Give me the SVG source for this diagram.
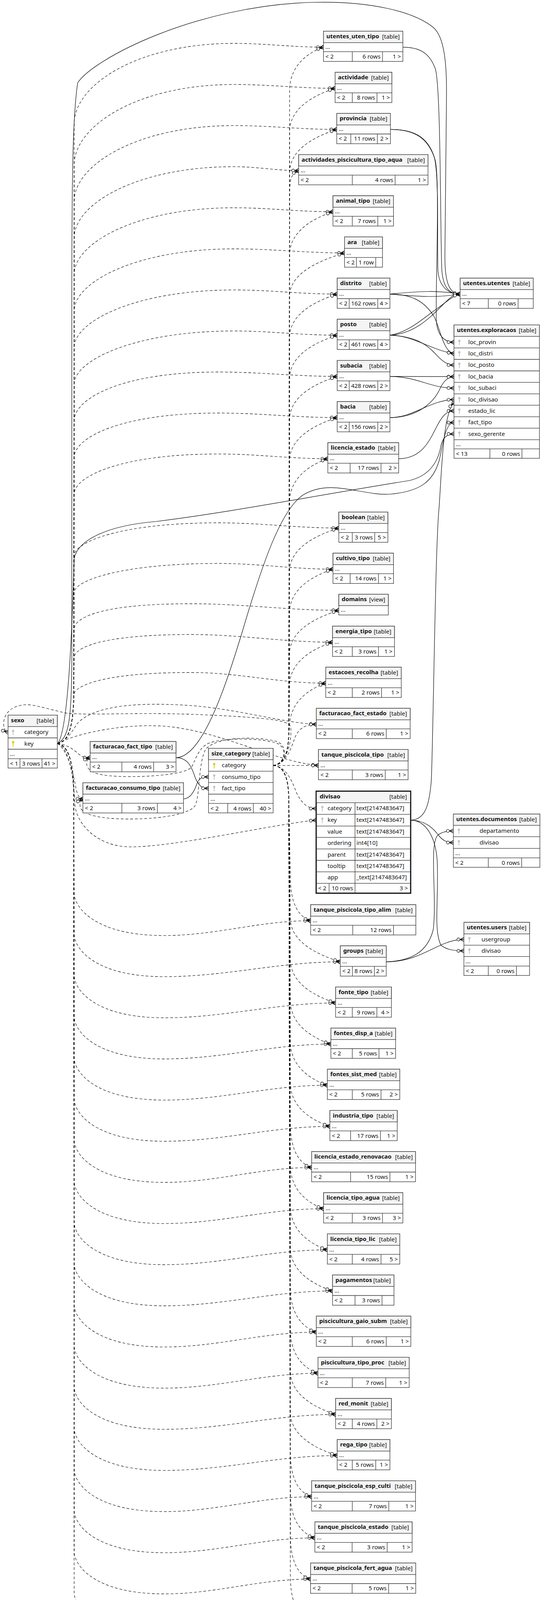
<svg xmlns="http://www.w3.org/2000/svg" xmlns:xlink="http://www.w3.org/1999/xlink" width="1399" height="4242" viewBox="0 0 1399 4242">
<style>
text{font-family:"Noto Sans","Open Sans","Liberation Sans",sans-serif;font-size:15px;fill:#111}
.tb{font-weight:bold}
.e{text-anchor:end}
.bx{fill:#fff;stroke:#333;stroke-width:1.3}
.bx3{fill:#fff;stroke:#111;stroke-width:3}
.hd{fill:#f4f4f4;stroke:#333;stroke-width:1.3}
.ln{fill:none;stroke:#333;stroke-width:1.3}
.dc{fill:none;stroke:#000;stroke-width:1.1;stroke-dasharray:7 5;marker-end:url(#cr)}
.sc{fill:none;stroke:#000;stroke-width:1.2;marker-end:url(#cr)}
</style>
<defs>
<marker id="cr" viewBox="-20 -7 22 14" refX="0" refY="0" markerWidth="22" markerHeight="14" markerUnits="userSpaceOnUse" orient="auto">
<path d="M-10,0L0,-5M-10,0L0,0M-10,0L0,5" fill="none" stroke="#000" stroke-width="1.5" stroke-dasharray="none"/>
<circle cx="-14" cy="0" r="3.8" fill="#fff" stroke="#000" stroke-width="1.2" stroke-dasharray="none"/>
</marker>
<g id="kg"><circle cx="0" cy="-3.5" r="3" fill="#c4c4c4"/><rect x="-1" y="-1" width="2" height="8.5" fill="#c4c4c4"/></g>
<g id="ky"><circle cx="0" cy="-3.5" r="3" fill="#d8d200"/><rect x="-1" y="-1" width="2" height="8.5" fill="#d8d200"/></g>
</defs>
<rect width="1399" height="4242" fill="#fff"/>
<g id="connectors">
<path class="dc" d="M147,1903.5C175,1900 188,1860 189,1780L190,315.8C191,218.3 350,111.1 600,111.1C680.1,111.1 748.7,120.8 828.8,120.8"/>
<path class="dc" d="M147,1903.5C175,1900 188,1860 189,1780L190,421.1C191,323.6 350,216.3 600,216.3C690.5,216.3 768.1,226.1 858.6,226.1"/>
<path class="dc" d="M147,1903.5C175,1900 188,1860 189,1780L190,514.3C191,422.9 350,321.5 600,321.5C692,321.5 770.8,331.4 862.8,331.4"/>
<path class="dc" d="M147,1903.5C175,1900 188,1860 189,1780L190,608C191,522.4 350,426.7 600,426.7C657.9,426.7 707.4,436.7 765.3,436.7"/>
<path class="dc" d="M147,1903.5C175,1900 188,1860 189,1780L190,701.9C191,622 350,531.9 600,531.9C688.6,531.9 764.6,542.1 853.2,542.1"/>
<path class="dc" d="M147,1903.5C175,1900 188,1860 189,1780L190,795.7C191,721.6 350,637.1 600,637.1C698.9,637.1 783.8,647.5 882.7,647.5"/>
<path class="dc" d="M147,1903.5C175,1900 188,1860 189,1780L190,889.5C191,821.2 350,742.3 600,742.3C692.4,742.3 771.6,752.9 864,752.9"/>
<path class="dc" d="M147,1903.5C175,1900 188,1860 189,1780L190,983.2C191,920.7 350,847.3 600,847.3C692.4,847.3 771.6,858.2 864,858.2"/>
<path class="dc" d="M147,1903.5C175,1900 188,1860 189,1780L190,1077C191,1020.3 310,952.4 560,952.4C666.4,952.4 757.6,963.6 864,963.6"/>
<path class="dc" d="M147,1903.5C175,1900 188,1860 189,1780L190,1170.8C191,1119.9 310,1057.4 560,1057.4C666.4,1057.4 757.6,1069 864,1069"/>
<path class="dc" d="M147,1903.5C175,1900 188,1860 189,1780L190,1264.5C191,1219.4 310,1162.2 560,1162.2C658,1162.2 742,1174.3 840,1174.3"/>
<path class="dc" d="M147,1903.5C175,1900 188,1860 189,1780L190,1422.5C191,1387.2 310,1338.4 560,1338.4C667.8,1338.4 760.3,1351.8 868.1,1351.8"/>
<path class="dc" d="M147,1903.5C175,1900 188,1860 189,1780L190,1516.2C191,1486.7 310,1442.4 560,1442.4C662.6,1442.4 750.6,1457.1 853.2,1457.1"/>
<path class="dc" d="M147,1903.5C175,1900 188,1860 189,1780L190,1609.9C191,1586.2 240,1545.6 490,1545.6C622.3,1545.6 735.8,1562.4 868.1,1562.4"/>
<path class="dc" d="M147,1903.5C175,1900 188,1860 189,1780L190,1682.5C191,1663.3 240,1624.4 490,1624.4C616.7,1624.4 725.3,1644 852,1644"/>
<path class="dc" d="M147,1903.5C175,1900 188,1860 189,1780L190,1776C191,1762.5 240,1721.6 490,1721.6C610.6,1721.6 714,1749 834.6,1749"/>
<path class="dc" d="M147,1903.5C175,1895 185,1870 200,1850C250,1800 380,1800 470,1805C600,1812 720,1850 810.5,1854.3"/>
<path class="dc" d="M147,1903.5C190,1880 300,1855 400,1858C550,1862 700,1950 815.9,1959.6"/>
<path class="dc" d="M147,1903.5C175,1910 188,1980 192,2060C196,2110 250,2168 335,2168C450,2168 700,2110 810.1,2099.6"/>
<path class="dc" d="M147,1903.5C175,1907 188,1950 189,2030L190,2287C191,2322 241,2395 421,2395C552.3,2395 664.8,2357 796,2357"/>
<path class="dc" d="M147,1903.5C175,1907 188,1950 189,2030L190,2392.3C191,2427.3 241,2500.3 421,2500.3C578.8,2500.3 714.1,2462.3 871.9,2462.3"/>
<path class="dc" d="M147,1903.5C175,1907 188,1950 189,2030L190,2497.6C191,2532.6 241,2605.6 421,2605.6C574.6,2605.6 706.3,2567.6 859.9,2567.6"/>
<path class="dc" d="M147,1903.5C175,1907 188,1950 189,2030L190,2602.9C191,2637.9 241,2710.9 421,2710.9C570.4,2710.9 698.4,2672.9 847.8,2672.9"/>
<path class="dc" d="M147,1903.5C175,1907 188,1950 189,2030L190,2708.2C191,2743.2 241,2816.2 421,2816.2C567.2,2816.2 692.5,2778.2 838.7,2778.2"/>
<path class="dc" d="M147,1903.5C175,1907 188,1950 189,2030L190,2813.6C191,2848.6 241,2921.6 421,2921.6C569.5,2921.6 696.8,2883.6 845.3,2883.6"/>
<path class="dc" d="M147,1903.5C175,1907 188,1950 189,2030L190,2918.9C191,2953.9 241,3026.9 421,3026.9C553.1,3026.9 666.4,2988.9 798.5,2988.9"/>
<path class="dc" d="M147,1903.5C175,1907 188,1950 189,2030L190,3024.3C191,3059.3 241,3132.3 421,3132.3C563.9,3132.3 686.3,3094.3 829.2,3094.3"/>
<path class="dc" d="M147,1903.5C175,1907 188,1950 189,2030L190,3129.6C191,3164.6 241,3237.6 421,3237.6C567.2,3237.6 692.5,3199.6 838.7,3199.6"/>
<path class="dc" d="M147,1903.5C175,1907 188,1950 189,2030L190,3234.9C191,3269.9 241,3342.9 421,3342.9C571.9,3342.9 701.2,3304.9 852,3304.9"/>
<path class="dc" d="M147,1903.5C175,1907 188,1950 189,2030L190,3340.3C191,3375.3 241,3448.3 421,3448.3C557.3,3448.3 674.2,3410.3 810.5,3410.3"/>
<path class="dc" d="M147,1903.5C175,1907 188,1950 189,2030L190,3445.6C191,3480.6 241,3553.6 421,3553.6C558.8,3553.6 676.9,3515.6 814.7,3515.6"/>
<path class="dc" d="M147,1903.5C175,1907 188,1950 189,2030L190,3551C191,3586 241,3659 421,3659C574.6,3659 706.3,3621 859.9,3621"/>
<path class="dc" d="M147,1903.5C175,1907 188,1950 189,2030L190,3656.3C191,3691.3 241,3764.3 421,3764.3C576,3764.3 709,3726.3 864,3726.3"/>
<path class="dc" d="M147,1903.5C175,1907 188,1950 189,2030L190,3761.7C191,3796.7 241,3869.7 421,3869.7C553.1,3869.7 666.4,3831.7 798.5,3831.7"/>
<path class="dc" d="M147,1903.5C175,1907 188,1950 189,2030L190,3867C191,3902 241,3975 421,3975C556,3975 671.7,3937 806.7,3937"/>
<path class="dc" d="M147,1903.5C175,1907 188,1950 189,2030L190,3972.4C191,4007.4 241,4080.4 421,4080.4C552.1,4080.4 664.6,4042.4 795.7,4042.4"/>
<path class="dc" d="M147,1903.5C175,1907 188,1950 189,2030L190,4077.7C191,4112.7 241,4185.7 421,4185.7C552.1,4185.7 664.6,4147.7 795.7,4147.7"/>
<path class="dc" d="M699.8,1959.5C725,1958 738,1935 740,1880L742,230.8C743,160.8 798.8,130.8 828.8,120.8"/>
<path class="dc" d="M699.8,1959.5C725,1958 738,1935 740,1880L742,336.1C743,266.1 828.6,236.1 858.6,226.1"/>
<path class="dc" d="M699.8,1959.5C725,1958 738,1935 740,1880L742,441.4C743,371.4 832.8,341.4 862.8,331.4"/>
<path class="dc" d="M699.8,1959.5C725,1958 738,1935 740,1880L742,496.7C743,456.7 745,446.7 765.3,436.7"/>
<path class="dc" d="M699.8,1959.5C725,1958 738,1935 740,1880L742,652.1C743,582.1 823.2,552.1 853.2,542.1"/>
<path class="dc" d="M699.8,1959.5C725,1958 738,1935 740,1880L742,757.5C743,687.5 852.7,657.5 882.7,647.5"/>
<path class="dc" d="M699.8,1959.5C725,1958 738,1935 740,1880L742,862.9C743,792.9 834,762.9 864,752.9"/>
<path class="dc" d="M699.8,1959.5C725,1958 738,1935 740,1880L742,968.2C743,898.2 834,868.2 864,858.2"/>
<path class="dc" d="M699.8,1959.5C725,1958 738,1935 740,1880L742,1073.6C743,1003.6 834,973.6 864,963.6"/>
<path class="dc" d="M699.8,1959.5C725,1958 738,1935 740,1880L742,1179C743,1109 834,1079 864,1069"/>
<path class="dc" d="M699.8,1959.5C725,1958 738,1935 740,1880L742,1284.3C743,1214.3 810,1184.3 840,1174.3"/>
<path class="dc" d="M699.8,1959.5C725,1958 738,1935 740,1880L742,1461.8C743,1391.8 838.1,1361.8 868.1,1351.8"/>
<path class="dc" d="M699.8,1959.5C725,1958 738,1935 740,1880L742,1567.1C743,1497.1 823.2,1467.1 853.2,1457.1"/>
<path class="dc" d="M699.8,1959.5C725,1958 738,1935 740,1880L742,1672.4C743,1602.4 838.1,1572.4 868.1,1562.4"/>
<path class="dc" d="M699.8,1959.5C725,1958 738,1935 740,1880L742,1754C743,1684 822,1654 852,1644"/>
<path class="dc" d="M699.8,1959.5C725,1958 738,1935 740,1880L742,1859C743,1789 804.6,1759 834.6,1749"/>
<path class="dc" d="M699.8,1959.5C730,1958 745,1920 755,1890C765,1865 780,1855 810.5,1854.3"/>
<path class="dc" d="M699.8,1959.5C740,1959.5 780,1959.6 815.9,1959.6"/>
<path class="dc" d="M699.8,1959.5C730,1962 745,1990 760,2030C775,2060 790,2069.8 810.1,2069.8"/>
<path class="dc" d="M699.8,1959.5C725,1961 738,1985 740,2040L744,2247C745,2317 766,2347 796,2357"/>
<path class="dc" d="M699.8,1959.5C725,1961 738,1985 740,2040L744,2352.3C745,2422.3 841.9,2452.3 871.9,2462.3"/>
<path class="dc" d="M699.8,1959.5C725,1961 738,1985 740,2040L744,2457.6C745,2527.6 829.9,2557.6 859.9,2567.6"/>
<path class="dc" d="M699.8,1959.5C725,1961 738,1985 740,2040L744,2562.9C745,2632.9 817.8,2662.9 847.8,2672.9"/>
<path class="dc" d="M699.8,1959.5C725,1961 738,1985 740,2040L744,2668.2C745,2738.2 808.7,2768.2 838.7,2778.2"/>
<path class="dc" d="M699.8,1959.5C725,1961 738,1985 740,2040L744,2773.6C745,2843.6 815.3,2873.6 845.3,2883.6"/>
<path class="dc" d="M699.8,1959.5C725,1961 738,1985 740,2040L744,2878.9C745,2948.9 768.5,2978.9 798.5,2988.9"/>
<path class="dc" d="M699.8,1959.5C725,1961 738,1985 740,2040L744,2984.3C745,3054.3 799.2,3084.3 829.2,3094.3"/>
<path class="dc" d="M699.8,1959.5C725,1961 738,1985 740,2040L744,3089.6C745,3159.6 808.7,3189.6 838.7,3199.6"/>
<path class="dc" d="M699.8,1959.5C725,1961 738,1985 740,2040L744,3194.9C745,3264.9 822,3294.9 852,3304.9"/>
<path class="dc" d="M699.8,1959.5C725,1961 738,1985 740,2040L744,3300.3C745,3370.3 780.5,3400.3 810.5,3410.3"/>
<path class="dc" d="M699.8,1959.5C725,1961 738,1985 740,2040L744,3405.6C745,3475.6 784.7,3505.6 814.7,3515.6"/>
<path class="dc" d="M699.8,1959.5C725,1961 738,1985 740,2040L744,3511C745,3581 829.9,3611 859.9,3621"/>
<path class="dc" d="M699.8,1959.5C725,1961 738,1985 740,2040L744,3616.3C745,3686.3 834,3716.3 864,3726.3"/>
<path class="dc" d="M699.8,1959.5C725,1961 738,1985 740,2040L744,3721.7C745,3791.7 768.5,3821.7 798.5,3831.7"/>
<path class="dc" d="M699.8,1959.5C725,1961 738,1985 740,2040L744,3827C745,3897 776.7,3927 806.7,3937"/>
<path class="dc" d="M699.8,1959.5C725,1961 738,1985 740,2040L744,3932.4C745,4002.4 765.7,4032.4 795.7,4042.4"/>
<path class="dc" d="M699.8,1959.5C725,1961 738,1985 740,2040L744,4037.7C745,4107.7 765.7,4137.7 795.7,4147.7"/>
<path class="dc" d="M147,1903.5C175,1905 195,1925 205,1933C212,1938 220,1939.7 231,1939.7"/>
<path class="dc" d="M147,1903.5C175,1920 190,1990 195,2020C200,2040 205,2045 212.4,2045.2"/>
<path class="dc" d="M699.8,1959.5C730,1955 738,1915 710,1903C670,1888 560,1888 530,1905C505,1920 500,1950 490,1965C470,1985 350,1992 280,1986C235,1982 222,1968 222,1955C222,1948 225,1942 231,1940"/>
<path class="dc" d="M699.8,1959.5C735,1955 740,1905 705,1897C640,1882 545,1890 526,1920C508,1955 512,2040 500,2062C488,2085 400,2100 300,2096C235,2093 205,2080 205,2062C205,2055 208,2048 212.4,2046"/>
<path class="dc" d="M699.8,1959.5C735,1955 748,1900 745,1862C742,1845 700,1838 526,1830C350,1822 250,1832 172,1826C120,1815 80,1800 57,1805C35,1808 15,1820 10,1845C8,1862 12,1872 20.6,1874.5"/>
<path class="sc" d="M1032.3,120.8C1075,121 1100,135 1115,175C1130,215 1128,600 1132,690C1135,735 1150,753 1179,753"/>
<path class="sc" d="M146.8,1903.5C175,1890 183,1850 184,1700L184,800C184,450 186,300 199,212C240,150 500,15 800,6C950,2 1060,30 1110,70C1140,95 1145,170 1144,250L1140,650C1139,720 1150,753 1179,753"/>
<path class="sc" d="M1000.4,331.4C1060,331 1095,350 1112,400C1125,440 1120,600 1122,690C1124,735 1150,753 1179,753"/>
<path class="sc" d="M1000.4,331.4C1060,331 1098,352 1115,410C1128,460 1115,760 1118,820C1120,860 1140,876 1163.3,876"/>
<path class="sc" d="M999.1,752.9C1080,745 1120,743 1179,753"/>
<path class="sc" d="M999.1,752.9C1080,760 1120,762 1179,753"/>
<path class="sc" d="M999.1,752.9C1060,753 1090,775 1112,810C1128,840 1135,900 1163.3,905.3"/>
<path class="sc" d="M999.1,858.2C1060,855 1100,815 1130,785C1150,765 1160,753 1179,753"/>
<path class="sc" d="M999.1,858.2C1050,850 1090,810 1120,790C1145,772 1160,758 1179,753"/>
<path class="sc" d="M999.1,858.2C1060,858 1100,895 1163.3,905.3"/>
<path class="sc" d="M999.1,858.2C1060,860 1090,880 1110,900C1125,915 1140,934.7 1163.3,934.7"/>
<path class="sc" d="M999.1,963.6L1163.3,964.2"/>
<path class="sc" d="M999.1,963.6C1070,964 1100,993 1163.3,993.6"/>
<path class="sc" d="M999.1,1069C1070,1069 1110,1030 1125,1000C1135,978 1145,965 1163.3,964.2"/>
<path class="sc" d="M999.1,1069C1060,1069 1100,1025 1163.3,1022.8"/>
<path class="sc" d="M1021.5,1174.3C1080,1174 1100,1130 1120,1090C1135,1062 1145,1052 1163.3,1052"/>
<path class="sc" d="M451,1939.7C520,1939 580,1750 620,1620C670,1450 720,1300 780,1265C850,1225 930,1270 1000,1265C1080,1258 1110,1230 1125,1180C1135,1140 1140,1082 1163.3,1081.5"/>
<path class="sc" d="M146.8,1903.5C175,1880 185,1600 190,1430C200,1380 280,1345 400,1335C600,1310 800,1270 1050,1230C1110,1215 1125,1170 1130,1140C1135,1120 1145,1111 1163.3,1110.9"/>
<path class="sc" d="M1052.2,2099.6C1090,2099 1100,2060 1105,2000C1110,1900 1115,1400 1125,1300C1132,1200 1135,1060 1163.3,1030"/>
<path class="sc" d="M1052.2,2099.6C1090,2100 1110,2120 1125,2140C1135,2152 1145,2157 1161.6,2156.9"/>
<path class="sc" d="M1052.2,2099.6C1090,2100 1115,2140 1120,2200C1125,2300 1110,2380 1130,2420C1145,2432 1165,2434 1188.6,2434.2"/>
<path class="sc" d="M989.6,2462.3C1050,2460 1095,2440 1110,2380C1120,2300 1100,2170 1120,2140C1130,2130 1145,2127 1161.6,2127.4"/>
<path class="sc" d="M989.6,2462.3C1060,2462 1100,2430 1140,2415C1160,2407 1175,2405 1188.6,2405.2"/>
<path class="sc" d="M451,1939.7C480,1940 490,1960 500,1990C510,2015 520,2018 534.3,2018.2"/>
<path class="sc" d="M470.2,2045.2C490,2045 500,2020 505,2005C512,1990 520,1988.8 534.3,1988.8"/>
</g>
<g id="t-utentes_uten_tipo" transform="translate(828.8,79.8)"><rect class="bx" width="203.5" height="77.5"/><rect class="hd" width="203.5" height="29.4"/><path class="ln" d="M0,52.6H203.5M73.8,52.6V77.5M151.3,52.6V77.5"/><text class="tb" x="7.5" y="18">utentes_uten_tipo</text><text class="e" x="195.5" y="19">[table]</text><text x="5" y="45">...</text><text x="5" y="70">&lt; 2</text><text class="e" x="146.3" y="70">6 rows</text><text class="e" x="198.5" y="70">1 &gt;</text></g>
<g id="t-actividade" transform="translate(858.6,185.1)"><rect class="bx" width="145.5" height="77.5"/><rect class="hd" width="145.5" height="29.4"/><path class="ln" d="M0,52.6H145.5M44,52.6V77.5M107.4,52.6V77.5"/><text class="tb" x="7.5" y="18">actividade</text><text class="e" x="137.5" y="19">[table]</text><text x="5" y="45">...</text><text x="5" y="70">&lt; 2</text><text class="e" x="102.4" y="70">8 rows</text><text class="e" x="140.5" y="70">1 &gt;</text></g>
<g id="t-provincia" transform="translate(862.8,290.4)"><rect class="bx" width="137.6" height="77.5"/><rect class="hd" width="137.6" height="29.4"/><path class="ln" d="M0,52.6H137.6M36,52.6V77.5M104,52.6V77.5"/><text class="tb" x="7.5" y="18">provincia</text><text class="e" x="129.6" y="19">[table]</text><text x="5" y="45">...</text><text x="5" y="70">&lt; 2</text><text class="e" x="99" y="70">11 rows</text><text class="e" x="132.6" y="70">2 &gt;</text></g>
<g id="t-actividades_piscicultura_tipo_aqua" transform="translate(765.3,395.7)"><rect class="bx" width="331.3" height="77.5"/><rect class="hd" width="331.3" height="29.4"/><path class="ln" d="M0,52.6H331.3M137.3,52.6V77.5M247.1,52.6V77.5"/><text class="tb" x="7.5" y="18">actividades_piscicultura_tipo_aqua</text><text class="e" x="323.3" y="19">[table]</text><text x="5" y="45">...</text><text x="5" y="70">&lt; 2</text><text class="e" x="242.1" y="70">4 rows</text><text class="e" x="326.3" y="70">1 &gt;</text></g>
<g id="t-animal_tipo" transform="translate(853.2,501.1)"><rect class="bx" width="155.1" height="77.5"/><rect class="hd" width="155.1" height="29.4"/><path class="ln" d="M0,52.6H155.1M49.4,52.6V77.5M114.8,52.6V77.5"/><text class="tb" x="7.5" y="18">animal_tipo</text><text class="e" x="147.1" y="19">[table]</text><text x="5" y="45">...</text><text x="5" y="70">&lt; 2</text><text class="e" x="109.8" y="70">7 rows</text><text class="e" x="150.1" y="70">1 &gt;</text></g>
<g id="t-ara" transform="translate(882.7,606.5)"><rect class="bx" width="97.4" height="77.5"/><rect class="hd" width="97.4" height="29.4"/><path class="ln" d="M0,52.6H97.4M30.6,52.6V77.5M80,52.6V77.5"/><text class="tb" x="7.5" y="18">ara</text><text class="e" x="89.4" y="19">[table]</text><text x="5" y="45">...</text><text x="5" y="70">&lt; 2</text><text class="e" x="75" y="70">1 row</text></g>
<g id="t-distrito" transform="translate(864,711.9)"><rect class="bx" width="135.1" height="77.5"/><rect class="hd" width="135.1" height="29.4"/><path class="ln" d="M0,52.6H135.1M30.7,52.6V77.5M104,52.6V77.5"/><text class="tb" x="7.5" y="18">distrito</text><text class="e" x="127.1" y="19">[table]</text><text x="5" y="45">...</text><text x="5" y="70">&lt; 2</text><text class="e" x="99" y="70">162 rows</text><text class="e" x="130.1" y="70">4 &gt;</text></g>
<g id="t-posto" transform="translate(864,817.2)"><rect class="bx" width="135.1" height="77.5"/><rect class="hd" width="135.1" height="29.4"/><path class="ln" d="M0,52.6H135.1M30.7,52.6V77.5M104,52.6V77.5"/><text class="tb" x="7.5" y="18">posto</text><text class="e" x="127.1" y="19">[table]</text><text x="5" y="45">...</text><text x="5" y="70">&lt; 2</text><text class="e" x="99" y="70">461 rows</text><text class="e" x="130.1" y="70">4 &gt;</text></g>
<g id="t-subacia" transform="translate(864,922.6)"><rect class="bx" width="135.1" height="77.5"/><rect class="hd" width="135.1" height="29.4"/><path class="ln" d="M0,52.6H135.1M30.7,52.6V77.5M104,52.6V77.5"/><text class="tb" x="7.5" y="18">subacia</text><text class="e" x="127.1" y="19">[table]</text><text x="5" y="45">...</text><text x="5" y="70">&lt; 2</text><text class="e" x="99" y="70">428 rows</text><text class="e" x="130.1" y="70">2 &gt;</text></g>
<g id="t-bacia" transform="translate(864,1028)"><rect class="bx" width="135.1" height="77.5"/><rect class="hd" width="135.1" height="29.4"/><path class="ln" d="M0,52.6H135.1M30.7,52.6V77.5M104,52.6V77.5"/><text class="tb" x="7.5" y="18">bacia</text><text class="e" x="127.1" y="19">[table]</text><text x="5" y="45">...</text><text x="5" y="70">&lt; 2</text><text class="e" x="99" y="70">156 rows</text><text class="e" x="130.1" y="70">2 &gt;</text></g>
<g id="t-licencia_estado" transform="translate(840,1133.3)"><rect class="bx" width="181.5" height="77.5"/><rect class="hd" width="181.5" height="29.4"/><path class="ln" d="M0,52.6H181.5M57.2,52.6V77.5M136.3,52.6V77.5"/><text class="tb" x="7.5" y="18">licencia_estado</text><text class="e" x="173.5" y="19">[table]</text><text x="5" y="45">...</text><text x="5" y="70">&lt; 2</text><text class="e" x="131.3" y="70">17 rows</text><text class="e" x="176.5" y="70">2 &gt;</text></g>
<g id="t-boolean" transform="translate(868.1,1310.8)"><rect class="bx" width="125.7" height="77.5"/><rect class="hd" width="125.7" height="29.4"/><path class="ln" d="M0,52.6H125.7M34.5,52.6V77.5M92.1,52.6V77.5"/><text class="tb" x="7.5" y="18">boolean</text><text class="e" x="117.7" y="19">[table]</text><text x="5" y="45">...</text><text x="5" y="70">&lt; 2</text><text class="e" x="87.1" y="70">3 rows</text><text class="e" x="120.7" y="70">5 &gt;</text></g>
<g id="t-cultivo_tipo" transform="translate(853.2,1416.1)"><rect class="bx" width="155.1" height="77.5"/><rect class="hd" width="155.1" height="29.4"/><path class="ln" d="M0,52.6H155.1M44,52.6V77.5M116.5,52.6V77.5"/><text class="tb" x="7.5" y="18">cultivo_tipo</text><text class="e" x="147.1" y="19">[table]</text><text x="5" y="45">...</text><text x="5" y="70">&lt; 2</text><text class="e" x="111.5" y="70">14 rows</text><text class="e" x="150.1" y="70">1 &gt;</text></g>
<g id="t-domains" transform="translate(868.1,1521.4)"><rect class="bx" width="126.9" height="53"/><rect class="hd" width="126.9" height="29"/><text class="tb" x="7.5" y="18">domains</text><text class="e" x="118.9" y="19">[view]</text><text x="5" y="45">...</text></g>
<g id="t-energia_tipo" transform="translate(852,1603)"><rect class="bx" width="158.7" height="77.5"/><rect class="hd" width="158.7" height="29.4"/><path class="ln" d="M0,52.6H158.7M50.6,52.6V77.5M117.7,52.6V77.5"/><text class="tb" x="7.5" y="18">energia_tipo</text><text class="e" x="150.7" y="19">[table]</text><text x="5" y="45">...</text><text x="5" y="70">&lt; 2</text><text class="e" x="112.7" y="70">3 rows</text><text class="e" x="153.7" y="70">1 &gt;</text></g>
<g id="t-estacoes_recolha" transform="translate(834.6,1708)"><rect class="bx" width="193.6" height="77.5"/><rect class="hd" width="193.6" height="29.4"/><path class="ln" d="M0,52.6H193.6M68,52.6V77.5M143,52.6V77.5"/><text class="tb" x="7.5" y="18">estacoes_recolha</text><text class="e" x="185.6" y="19">[table]</text><text x="5" y="45">...</text><text x="5" y="70">&lt; 2</text><text class="e" x="138" y="70">2 rows</text><text class="e" x="188.6" y="70">1 &gt;</text></g>
<g id="t-facturacao_fact_estado" transform="translate(810.5,1813.3)"><rect class="bx" width="240.5" height="77.5"/><rect class="hd" width="240.5" height="29.4"/><path class="ln" d="M0,52.6H240.5M92.1,52.6V77.5M179.1,52.6V77.5"/><text class="tb" x="7.5" y="18">facturacao_fact_estado</text><text class="e" x="232.5" y="19">[table]</text><text x="5" y="45">...</text><text x="5" y="70">&lt; 2</text><text class="e" x="174.1" y="70">6 rows</text><text class="e" x="235.5" y="70">1 &gt;</text></g>
<g id="t-tanque_piscicola_tipo" transform="translate(815.9,1918.6)"><rect class="bx" width="229.7" height="77.5"/><rect class="hd" width="229.7" height="29.4"/><path class="ln" d="M0,52.6H229.7M86.7,52.6V77.5M171.2,52.6V77.5"/><text class="tb" x="7.5" y="18">tanque_piscicola_tipo</text><text class="e" x="221.7" y="19">[table]</text><text x="5" y="45">...</text><text x="5" y="70">&lt; 2</text><text class="e" x="166.2" y="70">3 rows</text><text class="e" x="224.7" y="70">1 &gt;</text></g>
<g id="t-divisao" transform="translate(810.1,2025.4)"><rect class="bx3" width="242.1" height="261.2"/><rect fill="#f4f4f4" x="1.5" y="1.5" width="239.1" height="28"/><path class="ln" d="M0,29.5H242.1M0,59.3H242.1M0,89.2H242.1M0,118.2H242.1M0,148H242.1M0,177.1H242.1M0,206.5H242.1M0,235.9H242.1M99.5,29.5V261.2M33.2,235.9V261.2"/><text class="tb" x="9" y="18.5">divisao</text><text class="e" x="232.6" y="19.5">[table]</text><use href="#kg" x="15.8" y="44.2"/><use href="#kg" x="15.8" y="74.2"/><text x="29.1" y="49">category</text><text x="103.2" y="49">text[2147483647]</text><text x="29.1" y="78.8">key</text><text x="103.2" y="78.8">text[2147483647]</text><text x="29.1" y="108.7">value</text><text x="103.2" y="108.7">text[2147483647]</text><text x="29.1" y="137.7">ordering</text><text x="103.2" y="137.7">int4[10]</text><text x="29.1" y="167.5">parent</text><text x="103.2" y="167.5">text[2147483647]</text><text x="29.1" y="196.6">tooltip</text><text x="103.2" y="196.6">text[2147483647]</text><text x="29.1" y="226">app</text><text x="103.2" y="226">_text[2147483647]</text><text x="5" y="254">&lt; 2</text><text class="e" x="94.5" y="254">10 rows</text><text class="e" x="235" y="254">3 &gt;</text></g>
<g id="t-tanque_piscicola_tipo_alim" transform="translate(796,2316)"><rect class="bx" width="269.5" height="77.5"/><rect class="hd" width="269.5" height="29.4"/><path class="ln" d="M0,52.6H269.5M107.8,52.6V77.5M212.3,52.6V77.5"/><text class="tb" x="7.5" y="18">tanque_piscicola_tipo_alim</text><text class="e" x="261.5" y="19">[table]</text><text x="5" y="45">...</text><text x="5" y="70">&lt; 2</text><text class="e" x="207.3" y="70">12 rows</text></g>
<g id="t-groups" transform="translate(871.9,2421.3)"><rect class="bx" width="117.7" height="77.5"/><rect class="hd" width="117.7" height="29.4"/><path class="ln" d="M0,52.6H117.7M31.1,52.6V77.5M87.4,52.6V77.5"/><text class="tb" x="7.5" y="18">groups</text><text class="e" x="109.7" y="19">[table]</text><text x="5" y="45">...</text><text x="5" y="70">&lt; 2</text><text class="e" x="82.4" y="70">8 rows</text><text class="e" x="112.7" y="70">2 &gt;</text></g>
<g id="t-fonte_tipo" transform="translate(859.9,2526.6)"><rect class="bx" width="143" height="77.5"/><rect class="hd" width="143" height="29.4"/><path class="ln" d="M0,52.6H143M42.7,52.6V77.5M105.7,52.6V77.5"/><text class="tb" x="7.5" y="18">fonte_tipo</text><text class="e" x="135" y="19">[table]</text><text x="5" y="45">...</text><text x="5" y="70">&lt; 2</text><text class="e" x="100.7" y="70">9 rows</text><text class="e" x="138" y="70">4 &gt;</text></g>
<g id="t-fontes_disp_a" transform="translate(847.8,2631.9)"><rect class="bx" width="165.8" height="77.5"/><rect class="hd" width="165.8" height="29.4"/><path class="ln" d="M0,52.6H165.8M54.8,52.6V77.5M123.2,52.6V77.5"/><text class="tb" x="7.5" y="18">fontes_disp_a</text><text class="e" x="157.8" y="19">[table]</text><text x="5" y="45">...</text><text x="5" y="70">&lt; 2</text><text class="e" x="118.2" y="70">5 rows</text><text class="e" x="160.8" y="70">1 &gt;</text></g>
<g id="t-fontes_sist_med" transform="translate(838.7,2737.2)"><rect class="bx" width="185.7" height="77.5"/><rect class="hd" width="185.7" height="29.4"/><path class="ln" d="M0,52.6H185.7M63.9,52.6V77.5M137.6,52.6V77.5"/><text class="tb" x="7.5" y="18">fontes_sist_med</text><text class="e" x="177.7" y="19">[table]</text><text x="5" y="45">...</text><text x="5" y="70">&lt; 2</text><text class="e" x="132.6" y="70">5 rows</text><text class="e" x="180.7" y="70">2 &gt;</text></g>
<g id="t-industria_tipo" transform="translate(845.3,2842.6)"><rect class="bx" width="172.5" height="77.5"/><rect class="hd" width="172.5" height="29.4"/><path class="ln" d="M0,52.6H172.5M53.1,52.6V77.5M129.4,52.6V77.5"/><text class="tb" x="7.5" y="18">industria_tipo</text><text class="e" x="164.5" y="19">[table]</text><text x="5" y="45">...</text><text x="5" y="70">&lt; 2</text><text class="e" x="124.4" y="70">17 rows</text><text class="e" x="167.5" y="70">1 &gt;</text></g>
<g id="t-licencia_estado_renovacao" transform="translate(798.5,2947.9)"><rect class="bx" width="266.1" height="77.5"/><rect class="hd" width="266.1" height="29.4"/><path class="ln" d="M0,52.6H266.1M99.9,52.6V77.5M200.6,52.6V77.5"/><text class="tb" x="7" y="18">licencia_estado_renovacao</text><text class="e" x="259.1" y="19">[table]</text><text x="5" y="45">...</text><text x="5" y="70">&lt; 2</text><text class="e" x="195.6" y="70">15 rows</text><text class="e" x="261.1" y="70">1 &gt;</text></g>
<g id="t-licencia_tipo_agua" transform="translate(829.2,3053.3)"><rect class="bx" width="203.1" height="77.5"/><rect class="hd" width="203.1" height="29.4"/><path class="ln" d="M0,52.6H203.1M73.4,52.6V77.5M150.9,52.6V77.5"/><text class="tb" x="7.5" y="18">licencia_tipo_agua</text><text class="e" x="195.1" y="19">[table]</text><text x="5" y="45">...</text><text x="5" y="70">&lt; 2</text><text class="e" x="145.9" y="70">3 rows</text><text class="e" x="198.1" y="70">3 &gt;</text></g>
<g id="t-licencia_tipo_lic" transform="translate(838.7,3158.6)"><rect class="bx" width="185.7" height="77.5"/><rect class="hd" width="185.7" height="29.4"/><path class="ln" d="M0,52.6H185.7M63.9,52.6V77.5M137.6,52.6V77.5"/><text class="tb" x="7.5" y="18">licencia_tipo_lic</text><text class="e" x="177.7" y="19">[table]</text><text x="5" y="45">...</text><text x="5" y="70">&lt; 2</text><text class="e" x="132.6" y="70">4 rows</text><text class="e" x="180.7" y="70">5 &gt;</text></g>
<g id="t-pagamentos" transform="translate(852,3263.9)"><rect class="bx" width="157.5" height="77.5"/><rect class="hd" width="157.5" height="29.4"/><path class="ln" d="M0,52.6H157.5M57.6,52.6V77.5M126.8,52.6V77.5"/><text class="tb" x="7.5" y="18">pagamentos</text><text class="e" x="149.5" y="19">[table]</text><text x="5" y="45">...</text><text x="5" y="70">&lt; 2</text><text class="e" x="121.8" y="70">3 rows</text></g>
<g id="t-piscicultura_gaio_subm" transform="translate(810.5,3369.3)"><rect class="bx" width="242.1" height="77.5"/><rect class="hd" width="242.1" height="29.4"/><path class="ln" d="M0,52.6H242.1M92.1,52.6V77.5M179.1,52.6V77.5"/><text class="tb" x="7.5" y="18">piscicultura_gaio_subm</text><text class="e" x="234.1" y="19">[table]</text><text x="5" y="45">...</text><text x="5" y="70">&lt; 2</text><text class="e" x="174.1" y="70">6 rows</text><text class="e" x="237.1" y="70">1 &gt;</text></g>
<g id="t-piscicultura_tipo_proc" transform="translate(814.7,3474.6)"><rect class="bx" width="233.8" height="77.5"/><rect class="hd" width="233.8" height="29.4"/><path class="ln" d="M0,52.6H233.8M87.9,52.6V77.5M173.7,52.6V77.5"/><text class="tb" x="7.5" y="18">piscicultura_tipo_proc</text><text class="e" x="225.8" y="19">[table]</text><text x="5" y="45">...</text><text x="5" y="70">&lt; 2</text><text class="e" x="168.7" y="70">7 rows</text><text class="e" x="228.8" y="70">1 &gt;</text></g>
<g id="t-red_monit" transform="translate(859.9,3580)"><rect class="bx" width="143" height="77.5"/><rect class="hd" width="143" height="29.4"/><path class="ln" d="M0,52.6H143M42.7,52.6V77.5M105.7,52.6V77.5"/><text class="tb" x="7.5" y="18">red_monit</text><text class="e" x="135" y="19">[table]</text><text x="5" y="45">...</text><text x="5" y="70">&lt; 2</text><text class="e" x="100.7" y="70">4 rows</text><text class="e" x="138" y="70">2 &gt;</text></g>
<g id="t-rega_tipo" transform="translate(864,3685.3)"><rect class="bx" width="135.1" height="77.5"/><rect class="hd" width="135.1" height="29.4"/><path class="ln" d="M0,52.6H135.1M38.6,52.6V77.5M98.7,52.6V77.5"/><text class="tb" x="7.5" y="18">rega_tipo</text><text class="e" x="127.1" y="19">[table]</text><text x="5" y="45">...</text><text x="5" y="70">&lt; 2</text><text class="e" x="93.7" y="70">5 rows</text><text class="e" x="130.1" y="70">1 &gt;</text></g>
<g id="t-tanque_piscicola_esp_culti" transform="translate(798.5,3790.7)"><rect class="bx" width="266.1" height="77.5"/><rect class="hd" width="266.1" height="29.4"/><path class="ln" d="M0,52.6H266.1M104.1,52.6V77.5M197.7,52.6V77.5"/><text class="tb" x="7.5" y="18">tanque_piscicola_esp_culti</text><text class="e" x="258.1" y="19">[table]</text><text x="5" y="45">...</text><text x="5" y="70">&lt; 2</text><text class="e" x="192.7" y="70">7 rows</text><text class="e" x="261.1" y="70">1 &gt;</text></g>
<g id="t-tanque_piscicola_estado" transform="translate(806.7,3896)"><rect class="bx" width="249.3" height="77.5"/><rect class="hd" width="249.3" height="29.4"/><path class="ln" d="M0,52.6H249.3M95.6,52.6V77.5M185.3,52.6V77.5"/><text class="tb" x="7.5" y="18">tanque_piscicola_estado</text><text class="e" x="241.3" y="19">[table]</text><text x="5" y="45">...</text><text x="5" y="70">&lt; 2</text><text class="e" x="180.3" y="70">3 rows</text><text class="e" x="244.3" y="70">1 &gt;</text></g>
<g id="t-tanque_piscicola_fert_agua" transform="translate(795.7,4001.4)"><rect class="bx" width="269.6" height="77.5"/><rect class="hd" width="269.6" height="29.4"/><path class="ln" d="M0,52.6H269.6M106.6,52.6V77.5M200,52.6V77.5"/><text class="tb" x="7.5" y="18">tanque_piscicola_fert_agua</text><text class="e" x="261.6" y="19">[table]</text><text x="5" y="45">...</text><text x="5" y="70">&lt; 2</text><text class="e" x="195" y="70">5 rows</text><text class="e" x="264.6" y="70">1 &gt;</text></g>
<g id="t-tanque_piscicola_prov_alev" transform="translate(795.7,4106.7)"><rect class="bx" width="270.6" height="77.5"/><rect class="hd" width="270.6" height="29.4"/><path class="ln" d="M0,52.6H270.6M106.6,52.6V77.5M201.6,52.6V77.5"/><text class="tb" x="7.5" y="18">tanque_piscicola_prov_alev</text><text class="e" x="262.6" y="19">[table]</text><text x="5" y="45">...</text><text x="5" y="70">&lt; 2</text><text class="e" x="196.6" y="70">5 rows</text><text class="e" x="265.6" y="70">1 &gt;</text></g>
<g id="t-facturacao_fact_tipo" transform="translate(231,1898.3)"><rect class="bx" width="220" height="77.5"/><rect class="hd" width="220" height="29.4"/><path class="ln" d="M0,52.6H220M81.3,52.6V77.5M162.6,52.6V77.5"/><text class="tb" x="7.5" y="18">facturacao_fact_tipo</text><text class="e" x="212" y="19">[table]</text><text x="5" y="45">...</text><text x="5" y="70">&lt; 2</text><text class="e" x="157.6" y="70">4 rows</text><text class="e" x="215" y="70">3 &gt;</text></g>
<g id="t-facturacao_consumo_tipo" transform="translate(212.4,2003.7)"><rect class="bx" width="257.8" height="77.5"/><rect class="hd" width="257.8" height="29.4"/><path class="ln" d="M0,52.6H257.8M99.9,52.6V77.5M190.8,52.6V77.5"/><text class="tb" x="7.5" y="18">facturacao_consumo_tipo</text><text class="e" x="249.8" y="19">[table]</text><text x="5" y="45">...</text><text x="5" y="70">&lt; 2</text><text class="e" x="185.8" y="70">3 rows</text><text class="e" x="252.8" y="70">4 &gt;</text></g>
<g id="t-sexo" transform="translate(20.6,1830.7)"><rect class="bx" width="126.2" height="135.6"/><rect class="hd" width="126.2" height="29.3"/><path class="ln" d="M0,58.3H126.2M0,87.3H126.2M0,111.6H126.2M30.6,111.6V135.6M87,111.6V135.6"/><text class="tb" x="7.5" y="18">sexo</text><text class="e" x="118.2" y="19">[table]</text><use href="#kg" x="12.9" y="43.8"/><text x="41.6" y="48.8">category</text><use href="#ky" x="12.9" y="72.8"/><text x="41.6" y="78.3">key</text><text x="5" y="104">...</text><text x="5" y="129">&lt; 1</text><text class="e" x="82" y="129">3 rows</text><text class="e" x="121.2" y="129">41 &gt;</text></g>
<g id="t-size_category" transform="translate(534.3,1915.7)"><rect class="bx" width="165.5" height="165.3"/><rect class="hd" width="165.5" height="29"/><path class="ln" d="M0,58.6H165.5M0,87.6H165.5M0,117.3H165.5M0,141H165.5M49.2,141V165.3M114.8,141V165.3"/><text class="tb" x="7.5" y="18">size_category</text><text class="e" x="157.5" y="19">[table]</text><use href="#ky" x="14.5" y="43.8"/><text x="34" y="48.5">category</text><use href="#kg" x="14.5" y="73.1"/><text x="34" y="78">consumo_tipo</text><use href="#kg" x="14.5" y="102.5"/><text x="34" y="107.5">fact_tipo</text><text x="5" y="134.5">...</text><text x="5" y="159">&lt; 2</text><text class="e" x="109.8" y="159">4 rows</text><text class="e" x="160.5" y="159">40 &gt;</text></g>
<g id="t-utentes.utentes" transform="translate(1179,712)"><rect class="bx" width="187.4" height="77.4"/><rect class="hd" width="187.4" height="29.4"/><path class="ln" d="M0,52.6H187.4M72.2,52.6V77.4M148.5,52.6V77.4"/><text class="tb" x="7.5" y="18">utentes.utentes</text><text class="e" x="179.4" y="19">[table]</text><text x="5" y="45">...</text><text x="5" y="70">&lt; 7</text><text class="e" x="143.5" y="70">0 rows</text></g>
<g id="t-utentes.exploracaos" transform="translate(1163.3,831.7)"><rect class="bx" width="218.9" height="341.6"/><rect class="hd" width="218.9" height="29.5"/><path class="ln" d="M0,58.9H218.9M0,88.3H218.9M0,117.8H218.9M0,147.2H218.9M0,176.6H218.9M0,205.6H218.9M0,235.1H218.9M0,264.5H218.9M0,293.9H218.9M0,317.5H218.9M92,317.5V341.6M174.1,317.5V341.6"/><text class="tb" x="7.5" y="18">utentes.exploracaos</text><text class="e" x="211" y="19">[table]</text><use href="#kg" x="13.7" y="44.2"/><use href="#kg" x="13.7" y="73.6"/><use href="#kg" x="13.7" y="103"/><use href="#kg" x="13.7" y="132.5"/><use href="#kg" x="13.7" y="161.9"/><use href="#kg" x="13.7" y="191.1"/><use href="#kg" x="13.7" y="220.4"/><use href="#kg" x="13.7" y="249.8"/><use href="#kg" x="13.7" y="279.2"/><text x="36.5" y="49">loc_provin</text><text x="36.5" y="78.4">loc_distri</text><text x="36.5" y="107.8">loc_posto</text><text x="36.5" y="137.3">loc_bacia</text><text x="36.5" y="166.7">loc_subaci</text><text x="36.5" y="196.1">loc_divisao</text><text x="36.5" y="225.1">estado_lic</text><text x="36.5" y="254.6">fact_tipo</text><text x="36.5" y="284">sexo_gerente</text><text x="5" y="310">...</text><text x="5" y="335">&lt; 13</text><text class="e" x="169.1" y="335">0 rows</text></g>
<g id="t-utentes.documentos" transform="translate(1161.6,2083.9)"><rect class="bx" width="221.8" height="136.4"/><rect class="hd" width="221.8" height="29"/><path class="ln" d="M0,58H221.8M0,87.9H221.8M0,112.3H221.8M89.6,112.3V136.4M175,112.3V136.4"/><text class="tb" x="7.5" y="18">utentes.documentos</text><text class="e" x="213.8" y="19">[table]</text><use href="#kg" x="14.1" y="43.5"/><text x="67.2" y="48.5">departamento</text><use href="#kg" x="14.1" y="73"/><text x="67.2" y="78">divisao</text><text x="5" y="105">...</text><text x="5" y="130">&lt; 2</text><text class="e" x="170" y="130">0 rows</text></g>
<g id="t-utentes.users" transform="translate(1188.6,2361.2)"><rect class="bx" width="168.3" height="136"/><rect class="hd" width="168.3" height="29.5"/><path class="ln" d="M0,58.5H168.3M0,87.5H168.3M0,112H168.3M62.6,112V136M134.7,112V136"/><text class="tb" x="7.5" y="18">utentes.users</text><text class="e" x="160.3" y="19">[table]</text><use href="#kg" x="14.1" y="44"/><text x="45.2" y="49">usergroup</text><use href="#kg" x="14.1" y="73"/><text x="45.2" y="78">divisao</text><text x="5" y="105">...</text><text x="5" y="129.5">&lt; 2</text><text class="e" x="129.7" y="129.5">0 rows</text></g>
<text x="16" y="4228">Generated by SchemaSpy</text>
</svg>
